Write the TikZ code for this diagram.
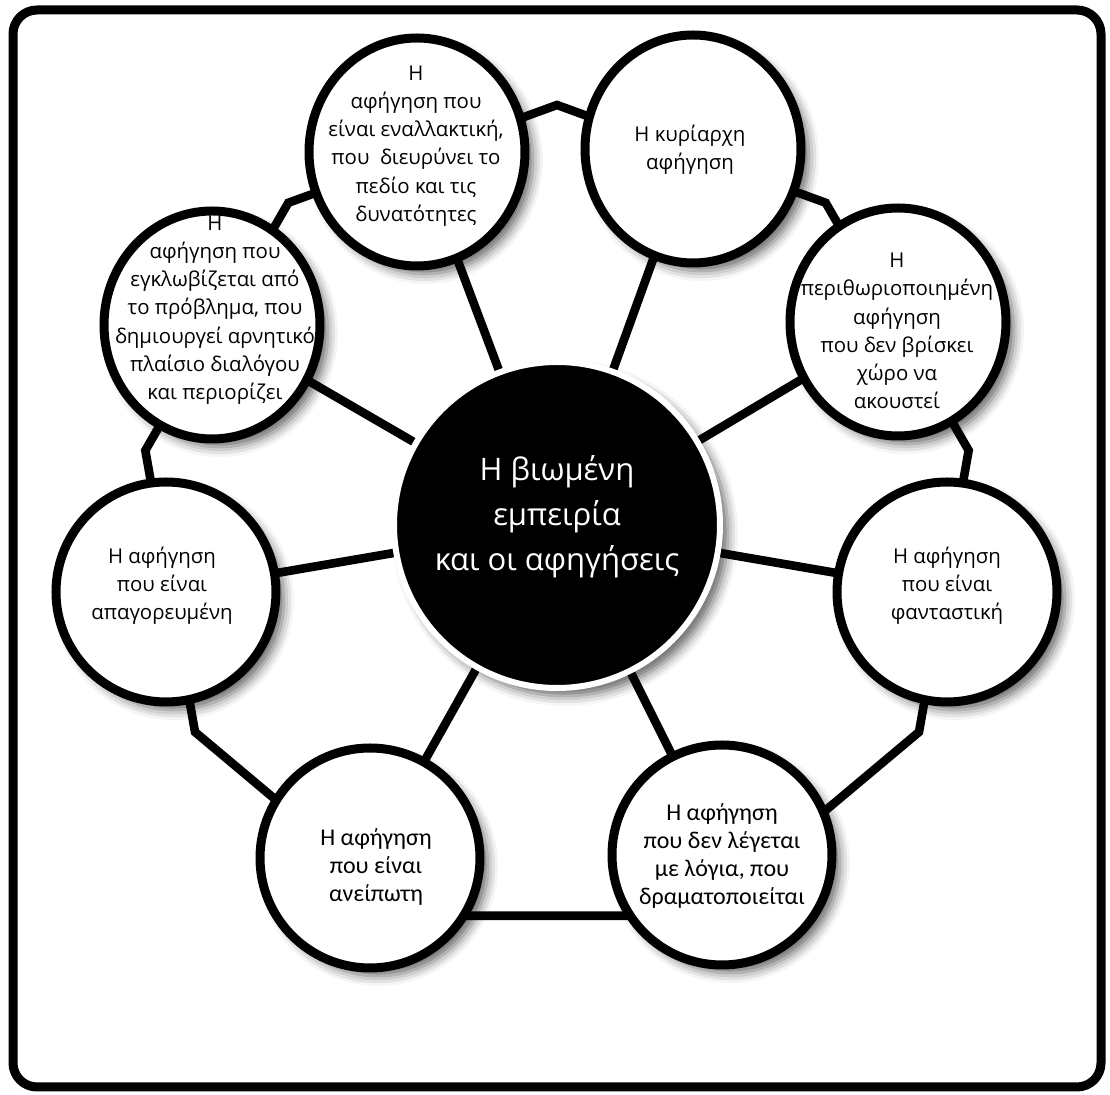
\documentclass[tikz,border=0pt]{standalone}
\usepackage{fontspec}
\setmainfont{Open Sans}
\newfontfamily\narrowfont{Carlito}
\usetikzlibrary{shapes.geometric,backgrounds,shadows.blur}

\begin{document}
\begin{tikzpicture}[x=0.5pt,y=-0.5pt,line join=miter,
		frame/.style={line width=4.5pt,rounded corners=12pt},
		spoke/.style={line width=4.3pt},
		ring/.style={line width=4.3pt},
		bubble/.style={ellipse,draw=black,fill=white,line width=4.5pt,inner sep=0pt,
			minimum width=110pt,minimum height=110pt,
			blur shadow={shadow xshift=4pt,shadow yshift=-4pt,shadow blur radius=5pt,shadow opacity=60}},
		tall/.style={minimum width=108pt,minimum height=114pt},
		hub/.style={circle,draw=white,fill=black,line width=3pt,inner sep=0pt,minimum size=163pt,
			blur shadow={shadow xshift=4pt,shadow yshift=-4pt,shadow blur radius=5pt,shadow opacity=60}},
		words/.style={align=center,font=\fontsize{10.2}{14.1}\selectfont},
		narrow/.style={align=center,font=\narrowfont\fontsize{12}{14}\selectfont}]
		\useasboundingbox (0,0) rectangle (1110,1095);
		\draw[frame] (13,10) rectangle (1101,1087);
		
		\node[hub] (hub) at (557,525) {};
		\node[bubble,tall] (A) at (417,152) {};
		\node[bubble,tall] (B) at (693,149) {};
		\node[bubble,tall] (C) at (898,322) {};
		\node[bubble] (D) at (947,592) {};
		\node[bubble] (E) at (722,855) {};
		\node[bubble] (F) at (370,858) {};
		\node[bubble] (G) at (166,592) {};
		\node[bubble,tall] (H) at (212,325) {};
		
		\node[words] (tA) at (416,146) {Η\\αφήγηση που\\είναι εναλλακτική,\\που\ \ διευρύνει το\\πεδίο και τις\\δυνατότητες};
		\node[words] (tB) at (690,150) {Η κυρίαρχη\\αφήγηση};
		\node[words] (tC) at (897,331) {Η\\περιθωριοποιημένη\\αφήγηση\\που δεν βρίσκει\\χώρο να\\ακουστεί};
		\node[words] (tD) at (947,586) {Η αφήγηση\\που είναι\\φανταστική};
		\node[narrow] (tE) at (722,856) {Η αφήγηση\\που δεν λέγεται\\με λόγια, που\\δραματοποιείται};
		\node[narrow] (tF) at (376,867) {Η αφήγηση\\που είναι\\ανείπωτη};
		\node[words] (tG) at (162,586) {Η αφήγηση\\που είναι\\απαγορευμένη};
		\node[words] (tH) at (215,310) {Η\\αφήγηση που\\εγκλωβίζεται από\\το πρόβλημα, που\\δημιουργεί αρνητικό\\πλαίσιο διαλόγου\\και περιορίζει};
		\node[align=center,text=white,font=\fontsize{15.5}{22.5}\selectfont] (tHub) at (557,517) {Η βιωμένη\\εμπειρία\\και οι αφηγήσεις};
		
		\begin{scope}[on background layer]
			\coordinate (mid) at (557,523);
			\foreach \a [count=\i] in {90,50,...,-230}
				\coordinate (v\i) at ([shift={(\a:209pt)}]mid);
			\draw[ring] (v1) \foreach \i in {2,...,9} {-- (v\i)} -- cycle;
			\foreach \n in {A,B,C,D,E,F,G,H}
				\draw[spoke] (hub.center) -- (\n.center);
		\end{scope}
\end{tikzpicture}
\end{document}
